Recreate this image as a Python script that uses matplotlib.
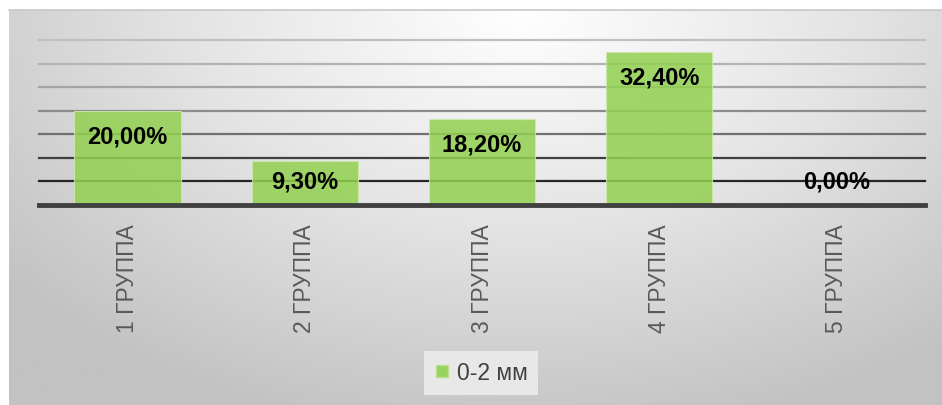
import numpy as np
import matplotlib.pyplot as plt
from matplotlib.colors import LinearSegmentedColormap
from matplotlib.lines import Line2D

groups = ["1 ГРУППА", "2 ГРУППА", "3 ГРУППА", "4 ГРУППА", "5 ГРУППА"]
values = [20.0, 9.3, 18.2, 32.4, 0.0]
series_name = "0-2 мм"

plt.rcParams['font.family'] = ['Liberation Sans', 'DejaVu Sans']

fig = plt.figure(figsize=(9.42, 4.05), dpi=100)

# background with radial gradient
bg = fig.add_axes([9 / 942, 0, 1 - 9 / 942, 395 / 405], zorder=0)
yy, xx = np.mgrid[0:1:300j, 0:1:600j]
d = np.sqrt(((xx - 0.55) / 0.72) ** 2 + ((yy - 0.0) / 1.1) ** 2)
d = np.clip(d, 0, 1)
cmap = LinearSegmentedColormap.from_list("bg", ["#ffffff", "#e4e4e4", "#c2c2c2"])
bg.imshow(d, cmap=cmap, aspect='auto', extent=[0, 1, 1, 0], vmin=0, vmax=1)
bg.axis('off')
fig.add_artist(Line2D([9 / 942, 1], [395 / 405, 395 / 405], color="#c8c8c8", lw=1.2))

ax = fig.add_axes([39 / 942, 1 - 205 / 405, 886 / 942, 165 / 405], zorder=1)
ax.patch.set_alpha(0)

x = np.arange(len(groups))
ax.set_xlim(-0.5, len(groups) - 0.5)
ax.set_ylim(0, 35)

grid_colors = ["#262626", "#404040", "#707070", "#8c8c8c", "#a4a4a4", "#b4b4b4", "#c0c0c0"]
for i, c in enumerate(grid_colors):
    ax.axhline(5 * (i + 1), color=c, lw=1.6, zorder=1, clip_on=False)
ax.axhline(0, color="#404040", lw=3.5, zorder=3, clip_on=False)

ax.bar(x, values, width=0.6, color="#92D050", alpha=0.85,
       edgecolor="#cfe8b0", linewidth=0.8, zorder=2)

for xi, v in zip(x, values):
    y = v - 5.5
    if y < v / 2:
        y = max(v / 2, 4.8)
    ax.text(xi, y, f"{v:.2f}%".replace(".", ","), ha='center', va='center',
            fontsize=17, fontweight='bold', color="#000000", zorder=4)

for s in ax.spines.values():
    s.set_visible(False)
ax.set_yticks([])
ax.set_xticks(x)
ax.set_xticklabels(groups, rotation=90, fontsize=16.5, color="#595959", va='top')
ax.tick_params(axis='x', length=0, pad=14)

handle = Line2D([], [], marker='s', linestyle='none', markersize=8,
                markerfacecolor="#92D050", markeredgecolor="#b8e08a", alpha=0.9)
fig.legend([handle], [series_name], loc='center', bbox_to_anchor=(481 / 942, 1 - 373 / 405),
           fontsize=16.5, frameon=True, facecolor="#e8e8e8", edgecolor="none",
           framealpha=1, fancybox=False, handlelength=0.7, handletextpad=0.3,
           borderpad=0.45, labelcolor="#404040")

fig.savefig("out.png", dpi=100)
